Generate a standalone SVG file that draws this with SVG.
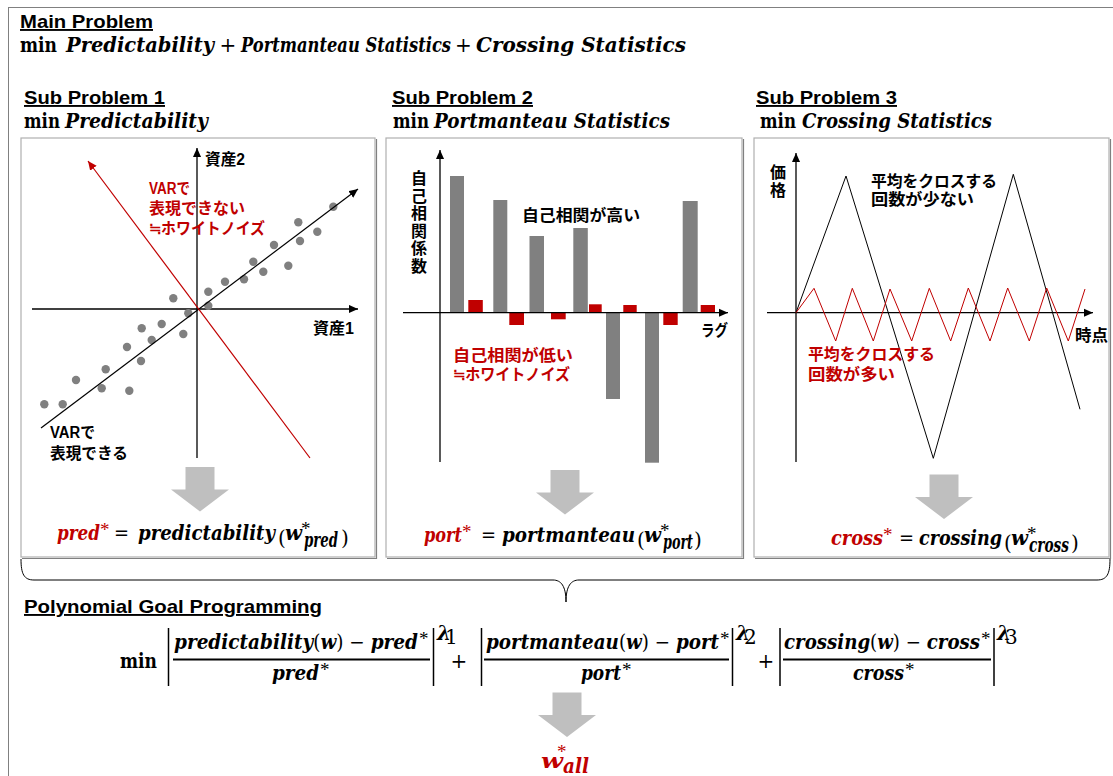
<svg xmlns="http://www.w3.org/2000/svg" width="1113" height="776" viewBox="0 0 1113 776">
<defs>
<style>
.h{font-family:"Liberation Sans",Arial,sans-serif;font-weight:bold;font-size:19px;text-decoration:underline;fill:#000}
.jp{font-family:"Liberation Sans","Noto Sans CJK JP",sans-serif;font-weight:bold;font-size:16px;fill:#000}
.red{fill:#C00000}
.mi{font-family:"DejaVu Serif",serif;font-style:italic;font-weight:bold;font-size:20px}
.mu{font-family:"DejaVu Serif",serif;font-weight:bold;font-size:20px}
.mo{font-family:"DejaVu Serif",serif;font-weight:normal;font-size:20px}
.st{font-family:"Liberation Serif",serif;font-weight:normal;font-size:19px}
.panel{fill:#fff;stroke:#B0B0B0;stroke-width:1.2}
.shadow{fill:none;stroke:#808080;stroke-width:1.2}
.ax{stroke:#000;stroke-width:1.3;fill:none}
.dot{fill:#808080}
.gbar{fill:#808080}
.rbar{fill:#C00000}
.blk{fill:#BFBFBF}
.bar{stroke:#000;stroke-width:1.5}
.fl{stroke:#000;stroke-width:1.8}
</style>
<marker id="ak" viewBox="0 0 10 10" refX="10" refY="5" markerWidth="9" markerHeight="9" markerUnits="userSpaceOnUse" orient="auto"><path d="M0,0.5 L10,5 L0,9.5 z" fill="#000"/></marker>
<marker id="ar" viewBox="0 0 10 10" refX="10" refY="5" markerWidth="9" markerHeight="9" markerUnits="userSpaceOnUse" orient="auto"><path d="M0,0.5 L10,5 L0,9.5 z" fill="#C00000"/></marker>
<path id="downarrow" d="M-14.5,0 H14.5 V22.5 H29 L0,44.5 L-29,22.5 H-14.5 Z"/>
</defs>
<rect width="1113" height="776" fill="#fff"/>

<g id="main">
<rect x="8.5" y="7.5" width="1120" height="800" fill="none" stroke="#808080" stroke-width="1"/>
<text class="h" x="20" y="28" textLength="133" lengthAdjust="spacingAndGlyphs">Main Problem</text>
<text class="mu" x="20" y="52" textLength="37" lengthAdjust="spacingAndGlyphs">min</text>
<text class="mi" x="66" y="52" textLength="148" lengthAdjust="spacingAndGlyphs">Predictability</text>
<text class="mo" x="228" y="52" text-anchor="middle" font-size="17">+</text>
<text class="mi" x="241" y="52" textLength="210" lengthAdjust="spacingAndGlyphs">Portmanteau Statistics</text>
<text class="mo" x="463.5" y="52" text-anchor="middle" font-size="17">+</text>
<text class="mi" x="476" y="52" textLength="210" lengthAdjust="spacingAndGlyphs">Crossing Statistics</text>
</g>

<g id="sub1">
<text class="h" x="24" y="104" textLength="141" lengthAdjust="spacingAndGlyphs">Sub Problem 1</text>
<text class="mu" x="24" y="128" textLength="36" lengthAdjust="spacingAndGlyphs">min</text>
<text class="mi" x="65" y="128" textLength="143" lengthAdjust="spacingAndGlyphs">Predictability</text>
<polyline class="shadow" points="376.5,139 376.5,558.5 22,558.5"/>
<rect class="panel" x="21" y="138" width="354" height="419"/>
<line class="ax" x1="197" y1="458" x2="197" y2="148" marker-end="url(#ak)"/>
<line class="ax" x1="32" y1="309" x2="358" y2="309" marker-end="url(#ak)"/>
<g>
<circle class="dot" cx="44.3" cy="404.3" r="4.2"/><circle class="dot" cx="62.7" cy="404.3" r="4.2"/>
<circle class="dot" cx="76" cy="380" r="4.2"/><circle class="dot" cx="101.7" cy="388.3" r="4.2"/>
<circle class="dot" cx="105.7" cy="369.3" r="4.2"/><circle class="dot" cx="129.3" cy="390.7" r="4.2"/>
<circle class="dot" cx="127" cy="347" r="4.2"/><circle class="dot" cx="141" cy="361" r="4.2"/>
<circle class="dot" cx="141.7" cy="328.3" r="4.2"/><circle class="dot" cx="151.7" cy="340" r="4.2"/>
<circle class="dot" cx="161.7" cy="324" r="4.2"/><circle class="dot" cx="183.3" cy="334" r="4.2"/>
<circle class="dot" cx="173.3" cy="298.3" r="4.2"/><circle class="dot" cx="188.3" cy="313.3" r="4.2"/>
<circle class="dot" cx="208.3" cy="291.7" r="4.2"/><circle class="dot" cx="208.3" cy="305.7" r="4.2"/>
<circle class="dot" cx="225" cy="281.7" r="4.2"/><circle class="dot" cx="244" cy="279.3" r="4.2"/>
<circle class="dot" cx="253.3" cy="261.7" r="4.2"/><circle class="dot" cx="263.3" cy="271.7" r="4.2"/>
<circle class="dot" cx="274" cy="245" r="4.2"/><circle class="dot" cx="288.3" cy="265.7" r="4.2"/>
<circle class="dot" cx="298.3" cy="222.3" r="4.2"/><circle class="dot" cx="300" cy="241" r="4.2"/>
<circle class="dot" cx="317.3" cy="231.7" r="4.2"/><circle class="dot" cx="333.3" cy="206.7" r="4.2"/>
</g>
<line x1="41" y1="428" x2="358" y2="189" stroke="#000" stroke-width="1.2" marker-end="url(#ak)"/>
<line x1="310" y1="458" x2="88" y2="161" stroke="#C00000" stroke-width="1.2" marker-end="url(#ar)"/>
<text class="jp" x="205" y="165" font-size="15" textLength="40" lengthAdjust="spacingAndGlyphs">資産2</text>
<text class="jp" x="313" y="334" font-size="15" textLength="41" lengthAdjust="spacingAndGlyphs">資産1</text>
<text class="jp red" x="149" y="194" textLength="41" lengthAdjust="spacingAndGlyphs">VARで</text>
<text class="jp red" x="149" y="214" textLength="96" lengthAdjust="spacingAndGlyphs">表現できない</text>
<text class="jp red" x="149" y="234" textLength="116" lengthAdjust="spacingAndGlyphs">≒ホワイトノイズ</text>
<text class="jp" x="50" y="438" textLength="45" lengthAdjust="spacingAndGlyphs">VARで</text>
<text class="jp" x="50" y="459" textLength="78" lengthAdjust="spacingAndGlyphs">表現できる</text>
<text class="mi red" x="57" y="540" textLength="43" lengthAdjust="spacingAndGlyphs">pred</text>
<text class="st red" x="100" y="536">*</text>
<text class="mo" x="114" y="540" textLength="15" lengthAdjust="spacingAndGlyphs">=</text>
<text class="mi" x="138" y="540" textLength="137" lengthAdjust="spacingAndGlyphs">predictability</text>
<text class="mo" x="278" y="545" font-size="26">(</text>
<text class="mi" x="285" y="540" textLength="17" lengthAdjust="spacingAndGlyphs">w</text>
<text class="st" x="301" y="535" font-size="15">*</text>
<text class="mi" x="304" y="547" font-size="13" textLength="34" lengthAdjust="spacingAndGlyphs">pred</text>
<text class="mo" x="341" y="545" font-size="26">)</text>
</g>

<g id="sub2">
<text class="h" x="392" y="104" textLength="141" lengthAdjust="spacingAndGlyphs">Sub Problem 2</text>
<text class="mu" x="393" y="128" textLength="36" lengthAdjust="spacingAndGlyphs">min</text>
<text class="mi" x="434" y="128" textLength="236" lengthAdjust="spacingAndGlyphs">Portmanteau Statistics</text>
<polyline class="shadow" points="743.5,139 743.5,558.5 387,558.5"/>
<rect class="panel" x="386" y="138" width="356" height="419"/>
<rect class="gbar" x="450" y="176" width="14" height="136.7"/>
<rect class="gbar" x="493.3" y="200" width="14" height="112.7"/>
<rect class="gbar" x="529.5" y="236" width="14.5" height="76.7"/>
<rect class="gbar" x="573.3" y="228" width="14.5" height="84.7"/>
<rect class="gbar" x="606" y="312.7" width="14" height="86.3"/>
<rect class="gbar" x="645" y="312.7" width="14" height="150"/>
<rect class="gbar" x="682.7" y="201" width="15" height="111.7"/>
<rect class="rbar" x="468.3" y="300" width="14.5" height="12.7"/>
<rect class="rbar" x="509.3" y="312.7" width="14.7" height="12.3"/>
<rect class="rbar" x="551" y="312.7" width="14.7" height="6.6"/>
<rect class="rbar" x="589" y="304.3" width="12.7" height="8.4"/>
<rect class="rbar" x="623.3" y="305" width="13.4" height="7.7"/>
<rect class="rbar" x="663.3" y="312.7" width="14.4" height="12.3"/>
<rect class="rbar" x="700.7" y="305" width="14.3" height="7.7"/>
<line class="ax" x1="440" y1="462" x2="440" y2="150" marker-end="url(#ak)"/>
<line class="ax" x1="403" y1="312.7" x2="728" y2="312.7" marker-end="url(#ak)"/>
<text class="jp" text-anchor="middle" font-size="16.5"><tspan x="419" y="184">自</tspan><tspan x="419" y="201.5">己</tspan><tspan x="419" y="219">相</tspan><tspan x="419" y="236.5">関</tspan><tspan x="419" y="254">係</tspan><tspan x="419" y="271.5">数</tspan></text>
<text class="jp" x="522" y="221" textLength="118" lengthAdjust="spacingAndGlyphs">自己相関が高い</text>
<text class="jp" x="701" y="336" textLength="27" lengthAdjust="spacingAndGlyphs">ラグ</text>
<text class="jp red" x="453" y="361" textLength="120" lengthAdjust="spacingAndGlyphs">自己相関が低い</text>
<text class="jp red" x="453" y="380" textLength="117" lengthAdjust="spacingAndGlyphs">≒ホワイトノイズ</text>
<text class="mi red" x="424" y="542" textLength="38" lengthAdjust="spacingAndGlyphs">port</text>
<text class="st red" x="462" y="538">*</text>
<text class="mo" x="481" y="542" textLength="15" lengthAdjust="spacingAndGlyphs">=</text>
<text class="mi" x="502" y="542" textLength="133" lengthAdjust="spacingAndGlyphs">portmanteau</text>
<text class="mo" x="637" y="547" font-size="26">(</text>
<text class="mi" x="644" y="542" textLength="17" lengthAdjust="spacingAndGlyphs">w</text>
<text class="st" x="660" y="537" font-size="15">*</text>
<text class="mi" x="663" y="549" font-size="13" textLength="30" lengthAdjust="spacingAndGlyphs">port</text>
<text class="mo" x="694" y="547" font-size="26">)</text>
</g>

<g id="sub3">
<text class="h" x="756" y="104" textLength="141" lengthAdjust="spacingAndGlyphs">Sub Problem 3</text>
<text class="mu" x="760" y="128" textLength="36" lengthAdjust="spacingAndGlyphs">min</text>
<text class="mi" x="802" y="128" textLength="190" lengthAdjust="spacingAndGlyphs">Crossing Statistics</text>
<polyline class="shadow" points="1110.5,139 1110.5,558.5 755,558.5"/>
<rect class="panel" x="754" y="138" width="355" height="419"/>
<line class="ax" x1="796" y1="462" x2="796" y2="153" marker-end="url(#ak)"/>
<line class="ax" x1="767" y1="312.7" x2="1093" y2="312.7" marker-end="url(#ak)"/>
<polyline fill="none" stroke="#000" stroke-width="1" points="796,312.7 846,176 933.3,458.3 1013.3,174.3 1080,409.3"/>
<polyline fill="none" stroke="#C00000" stroke-width="1" points="796,312.7 814,288.3 835.7,341 852.3,288.3 873.3,341 890,289 911.7,341 929.3,288.3 950.7,341 968.3,288 990,341 1007.7,288 1029.3,341 1046.7,288 1068.3,341 1085,289"/>
<text class="jp" text-anchor="middle" font-size="15.5"><tspan x="778" y="178">価</tspan><tspan x="778" y="196">格</tspan></text>
<text class="jp" x="871" y="187" textLength="126" lengthAdjust="spacingAndGlyphs">平均をクロスする</text>
<text class="jp" x="871" y="205" textLength="103" lengthAdjust="spacingAndGlyphs">回数が少ない</text>
<text class="jp" x="1075" y="341" textLength="33" lengthAdjust="spacingAndGlyphs">時点</text>
<text class="jp red" x="808" y="360" textLength="127" lengthAdjust="spacingAndGlyphs">平均をクロスする</text>
<text class="jp red" x="808" y="380" textLength="87" lengthAdjust="spacingAndGlyphs">回数が多い</text>
<text class="mi red" x="831" y="545" textLength="52" lengthAdjust="spacingAndGlyphs">cross</text>
<text class="st red" x="883" y="541">*</text>
<text class="mo" x="899" y="545" textLength="15" lengthAdjust="spacingAndGlyphs">=</text>
<text class="mi" x="919" y="545" textLength="83" lengthAdjust="spacingAndGlyphs">crossing</text>
<text class="mo" x="1004" y="550" font-size="26">(</text>
<text class="mi" x="1011" y="545" textLength="17" lengthAdjust="spacingAndGlyphs">w</text>
<text class="st" x="1027" y="540" font-size="15">*</text>
<text class="mi" x="1029" y="552" font-size="13" textLength="40" lengthAdjust="spacingAndGlyphs">cross</text>
<text class="mo" x="1071" y="550" font-size="26">)</text>
</g>

<g id="goal">
<text class="h" x="24" y="613" textLength="298" lengthAdjust="spacingAndGlyphs">Polynomial Goal Programming</text>
<text class="mu" x="120" y="668" textLength="37" lengthAdjust="spacingAndGlyphs">min</text>
<line class="bar" x1="168.5" y1="628" x2="168.5" y2="686"/>
<line class="bar" x1="433.5" y1="628" x2="433.5" y2="686"/>
<line class="bar" x1="481.5" y1="628" x2="481.5" y2="686"/>
<line class="bar" x1="732.5" y1="628" x2="732.5" y2="686"/>
<line class="bar" x1="780" y1="628" x2="780" y2="686"/>
<line class="bar" x1="994" y1="628" x2="994" y2="686"/>
<text x="174" y="649" textLength="244" lengthAdjust="spacingAndGlyphs" font-size="19"><tspan class="mi" font-size="19">predictability</tspan><tspan class="mo" font-size="19">(</tspan><tspan class="mi" font-size="19">w</tspan><tspan class="mo" font-size="19">) − </tspan><tspan class="mi" font-size="19">pred</tspan></text>
<text class="st" x="419" y="645" font-size="15">*</text>
<line class="fl" x1="173" y1="659.5" x2="430" y2="659.5"/>
<text class="mi" x="272" y="680" font-size="19" textLength="47" lengthAdjust="spacingAndGlyphs">pred</text>
<text class="st" x="320" y="676" font-size="15">*</text>
<text class="mi" x="437" y="640" font-size="13">λ</text><text class="mo" x="445" y="644" font-size="9">1</text>
<text class="mo" x="459" y="668" text-anchor="middle" font-size="18">+</text>
<text x="486" y="649" textLength="233" lengthAdjust="spacingAndGlyphs" font-size="19"><tspan class="mi" font-size="19">portmanteau</tspan><tspan class="mo" font-size="19">(</tspan><tspan class="mi" font-size="19">w</tspan><tspan class="mo" font-size="19">) − </tspan><tspan class="mi" font-size="19">port</tspan></text>
<text class="st" x="720" y="645" font-size="15">*</text>
<line class="fl" x1="484" y1="659.5" x2="729" y2="659.5"/>
<text class="mi" x="581" y="680" font-size="19" textLength="40" lengthAdjust="spacingAndGlyphs">port</text>
<text class="st" x="622" y="676" font-size="15">*</text>
<text class="mi" x="736" y="640" font-size="13">λ</text><text class="mo" x="744" y="644" font-size="9">2</text>
<text class="mo" x="766" y="668" text-anchor="middle" font-size="18">+</text>
<text x="784" y="649" textLength="196" lengthAdjust="spacingAndGlyphs" font-size="19"><tspan class="mi" font-size="19">crossing</tspan><tspan class="mo" font-size="19">(</tspan><tspan class="mi" font-size="19">w</tspan><tspan class="mo" font-size="19">) − </tspan><tspan class="mi" font-size="19">cross</tspan></text>
<text class="st" x="981" y="645" font-size="15">*</text>
<line class="fl" x1="783" y1="659.5" x2="991" y2="659.5"/>
<text class="mi" x="853" y="680" font-size="19" textLength="51" lengthAdjust="spacingAndGlyphs">cross</text>
<text class="st" x="905" y="676" font-size="15">*</text>
<text class="mi" x="997" y="640" font-size="13">λ</text><text class="mo" x="1005" y="644" font-size="9">3</text>
</g>

<g id="result">
<text class="mi red" x="541" y="768" font-size="26" textLength="22" lengthAdjust="spacingAndGlyphs">w</text>
<text class="st red" x="557" y="758" font-size="22">*</text>
<text class="mi red" x="563" y="773" font-size="18" textLength="26" lengthAdjust="spacingAndGlyphs">all</text>
</g>

<g id="connectors">
<use href="#downarrow" class="blk" transform="translate(200,467)"/>
<use href="#downarrow" class="blk" transform="translate(565,470)"/>
<use href="#downarrow" class="blk" transform="translate(944,474.5)"/>
<use href="#downarrow" class="blk" transform="translate(567,692.5)"/>
<path d="M21,559 C21,574 24,580 34,580 L553,580 C561,580 566,586 566,602 C566,586 571,580 579,580 L1097,580 C1107,580 1110,574 1110,559" fill="none" stroke="#000" stroke-width="1"/>
</g>
</svg>
